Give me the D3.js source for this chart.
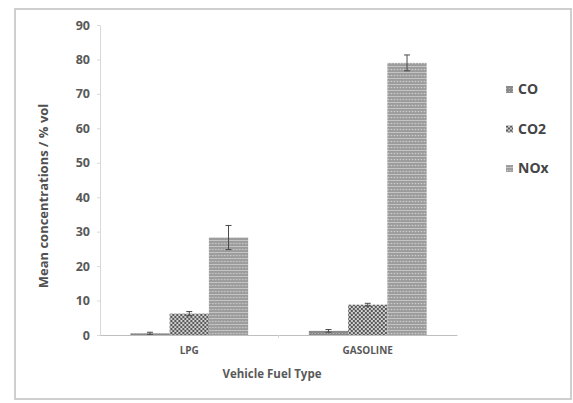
<!DOCTYPE html>
<html>
<head>
<script src="https://d3js.org/d3.v7.min.js"></script>
<style>
body { margin: 0; background: #fff; }
text { font-family: "Open Sans", "DejaVu Sans", sans-serif; font-weight: bold; fill: #595959; }
</style>
</head>
<body>
<svg id="chart" width="573" height="403"></svg>
<script>
// data
var fuels = ["LPG", "GASOLINE"];
var gases = ["CO", "CO2", "NOx"];
var lpgMeans = [0.5, 6.2, 28.3];
var gasolineMeans = [1.2, 8.8, 79.0];
var lpgErr = [0.3, 0.6, 3.5];
var gasolineErr = [0.4, 0.4, 2.3];
var yTicks = [0, 10, 20, 30, 40, 50, 60, 70, 80, 90];

var rows = [
  {fuel: "LPG", means: lpgMeans, err: lpgErr},
  {fuel: "GASOLINE", means: gasolineMeans, err: gasolineErr}
];

var svg = d3.select("#chart");
var plotL = 100, plotR = 457, plotT = 25, plotB = 335;

// chart frame
svg.append("rect")
  .attr("x", 15).attr("y", 9).attr("width", 556).attr("height", 390)
  .attr("fill", "none").attr("stroke", "#cfcfcf").attr("stroke-width", 2);

// fill patterns
var defs = svg.append("defs");
var pCO = defs.append("pattern").attr("id", "pat-CO")
  .attr("width", 3).attr("height", 3).attr("patternUnits", "userSpaceOnUse");
pCO.append("rect").attr("width", 3).attr("height", 3).attr("fill", "#8a8a8a");
pCO.append("rect").attr("width", 1).attr("height", 1).attr("fill", "#b5b5b5");

var pCO2 = defs.append("pattern").attr("id", "pat-CO2")
  .attr("width", 4).attr("height", 4).attr("patternUnits", "userSpaceOnUse");
pCO2.append("rect").attr("width", 4).attr("height", 4).attr("fill", "#d8d8d8");
pCO2.append("circle").attr("cx", 1).attr("cy", 1).attr("r", 1.2).attr("fill", "#555");
pCO2.append("circle").attr("cx", 3).attr("cy", 3).attr("r", 1.2).attr("fill", "#555");

var pNOx = defs.append("pattern").attr("id", "pat-NOx")
  .attr("width", 6).attr("height", 6).attr("patternUnits", "userSpaceOnUse");
pNOx.append("rect").attr("width", 6).attr("height", 6).attr("fill", "#9c9c9c");
pNOx.append("rect").attr("y", 0).attr("width", 6).attr("height", 1).attr("fill", "#c4c4c4");
pNOx.append("circle").attr("cx", 1.5).attr("cy", 3.5).attr("r", 0.8).attr("fill", "#d0d0d0");
pNOx.append("circle").attr("cx", 4.5).attr("cy", 3.5).attr("r", 0.8).attr("fill", "#d0d0d0");

var x0 = d3.scaleBand().domain(fuels).range([plotL, plotR]).paddingInner(0.34).paddingOuter(0.17);
var x1 = d3.scaleBand().domain(gases).range([0, x0.bandwidth()]);
var y = d3.scaleLinear().domain([0, 90]).range([plotB, plotT]);

// y axis
var yAxis = svg.append("g").attr("transform", "translate(" + plotL + ",0)")
  .call(d3.axisLeft(y).tickValues(yTicks).tickSize(3).tickPadding(7));
yAxis.select(".domain").attr("stroke", "#d9d9d9");
yAxis.selectAll(".tick line").attr("stroke", "#d9d9d9");
yAxis.selectAll("text").style("font-size", "12.5px").style("fill", "#595959");

// x axis
var xAxis = svg.append("g").attr("transform", "translate(0," + plotB + ")")
  .call(d3.axisBottom(x0).tickSize(0).tickPadding(12));
xAxis.select(".domain").attr("stroke", "#bfbfbf");
xAxis.selectAll("text").style("font-size", "10px").style("fill", "#595959");
// category divider tick
svg.append("line")
  .attr("x1", (plotL + plotR) / 2).attr("x2", (plotL + plotR) / 2)
  .attr("y1", plotB).attr("y2", plotB + 3)
  .attr("stroke", "#d9d9d9");

// bars
var groups = svg.selectAll(".grp").data(rows).enter().append("g")
  .attr("transform", function(d) { return "translate(" + x0(d.fuel) + ",0)"; });

function cells(d) {
  return gases.map(function(g, i) { return {gas: g, v: d.means[i], e: d.err[i]}; });
}

groups.selectAll("rect").data(cells).enter().append("rect")
  .attr("x", function(d) { return x1(d.gas); })
  .attr("y", function(d) { return y(d.v); })
  .attr("width", x1.bandwidth())
  .attr("height", function(d) { return y(0) - y(d.v); })
  .attr("fill", function(d) { return "url(#pat-" + d.gas + ")"; });

// error bars
var eb = groups.selectAll(".err").data(cells).enter().append("g")
  .attr("stroke", "#4a4a4a").attr("stroke-width", 1);
function cx(d) { return x1(d.gas) + x1.bandwidth() / 2; }
eb.append("line")
  .attr("x1", cx).attr("x2", cx)
  .attr("y1", function(d) { return y(d.v - d.e); })
  .attr("y2", function(d) { return y(d.v + d.e); });
eb.append("line")
  .attr("x1", function(d) { return cx(d) - 3; })
  .attr("x2", function(d) { return cx(d) + 3; })
  .attr("y1", function(d) { return y(d.v + d.e); })
  .attr("y2", function(d) { return y(d.v + d.e); });
eb.append("line")
  .attr("x1", function(d) { return cx(d) - 3; })
  .attr("x2", function(d) { return cx(d) + 3; })
  .attr("y1", function(d) { return y(d.v - d.e); })
  .attr("y2", function(d) { return y(d.v - d.e); });

// axis titles
svg.append("text")
  .attr("transform", "translate(48,196) rotate(-90)")
  .attr("text-anchor", "middle").style("font-size", "13px").style("fill", "#505050")
  .text("Mean concentrations / % vol");
svg.append("text")
  .attr("x", 272).attr("y", 378).attr("text-anchor", "middle")
  .style("font-size", "11.5px")
  .text("Vehicle Fuel Type");

// legend
var leg = svg.selectAll(".leg").data(gases).enter().append("g")
  .attr("transform", function(d, i) { return "translate(506," + (94 + i * 39.5) + ")"; });
leg.append("rect").attr("x", 0).attr("y", -8).attr("width", 7).attr("height", 7)
  .attr("fill", function(d) { return "url(#pat-" + d + ")"; });
leg.append("text").attr("x", 12).attr("y", 0)
  .style("font-size", "14px").style("fill", "#454545")
  .text(function(d) { return d; });
</script>
</body>
</html>
